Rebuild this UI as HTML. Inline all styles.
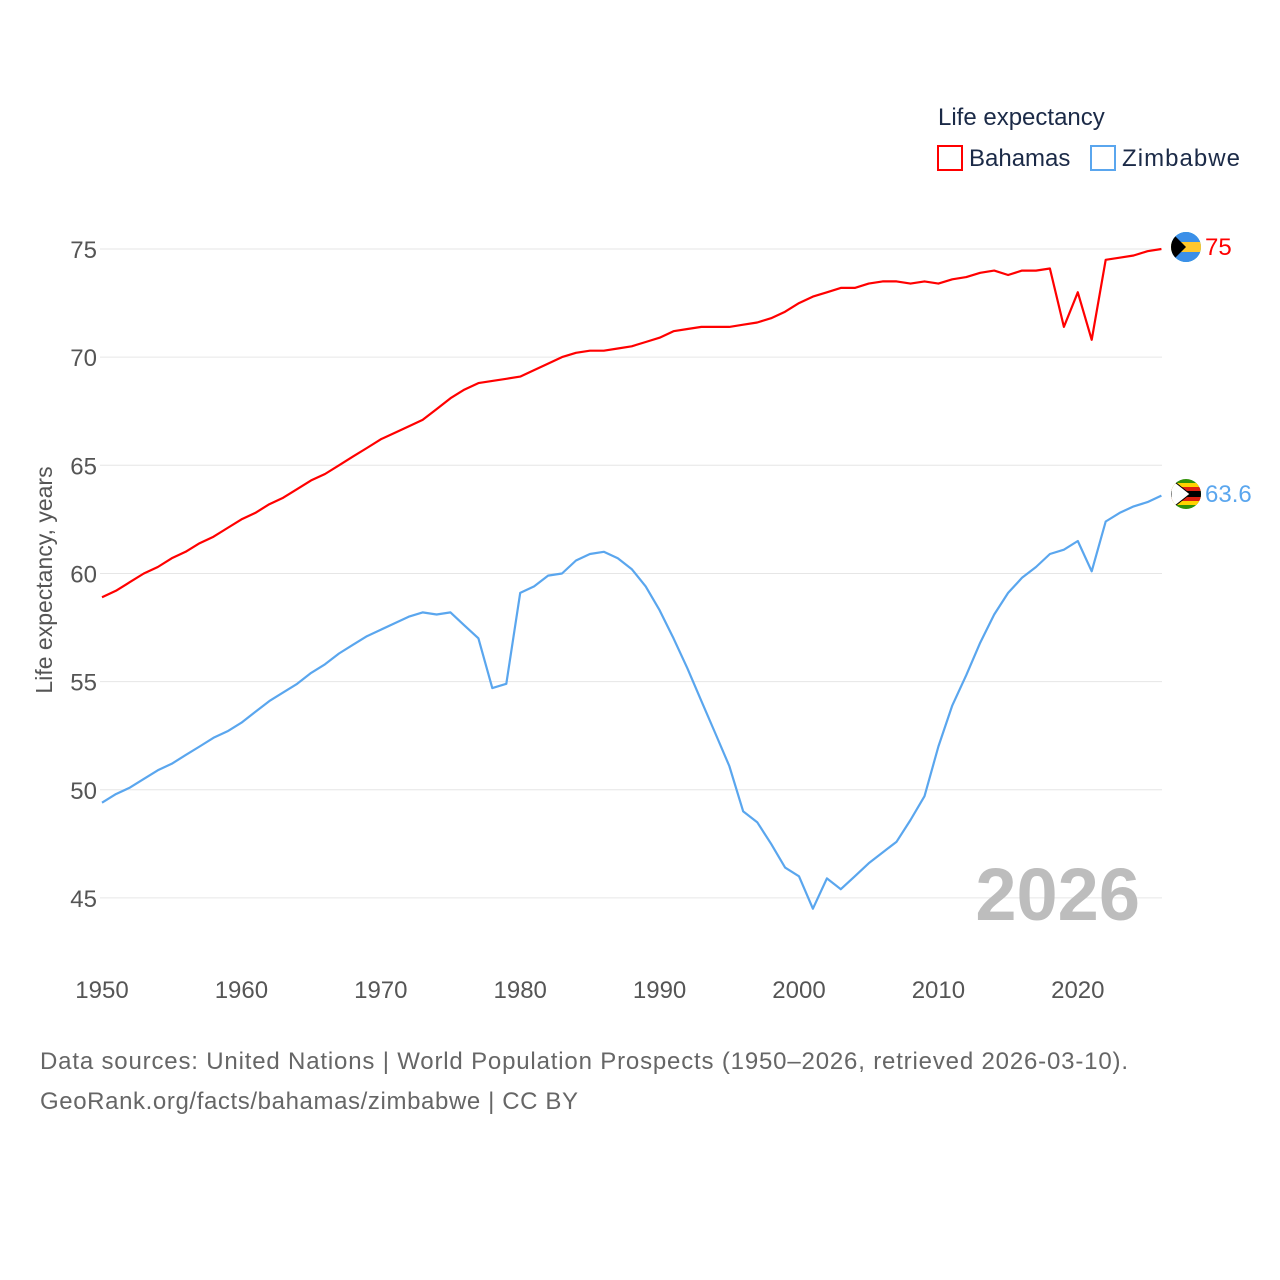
<!DOCTYPE html>
<html><head><meta charset="utf-8"><style>
body{margin:0;background:#fff;}
svg{display:block;font-family:"Liberation Sans",sans-serif;}
</style></head><body>
<svg id="chart" width="1280" height="1280" viewBox="0 0 1280 1280">
<g id="grid"></g>
<g id="yticks"></g>
<g id="xticks"></g>
<text x="52" y="580" transform="rotate(-90 52 580)" text-anchor="middle" font-size="23" fill="#555">Life expectancy, years</text>
<text x="1140" y="920" text-anchor="end" font-size="74" font-weight="bold" fill="#bdbdbd">2026</text>
<g id="series"></g>
<g>
<text x="938" y="125" font-size="24" fill="#1b2a47">Life expectancy</text>
<g><rect x="938" y="146" width="24" height="24" fill="none" stroke="#ff0000" stroke-width="2"/><text x="969" y="166" font-size="24" fill="#1b2a47">Bahamas</text></g>
<g><rect x="1091" y="146" width="24" height="24" fill="none" stroke="#5aa6ee" stroke-width="2"/><text x="1122" y="166" font-size="24" fill="#1b2a47" textLength="118">Zimbabwe</text></g>
</g>
<defs>
<clipPath id="c1"><circle cx="1186" cy="247" r="15"/></clipPath>
<clipPath id="c2"><circle cx="1186" cy="494" r="15"/></clipPath>
</defs>
<g clip-path="url(#c1)">
<rect x="1171" y="232" width="30" height="30" fill="#00abc9"/>
<rect x="1171" y="242" width="30" height="10" fill="#ffc72c"/>
<rect x="1171" y="232" width="30" height="10" fill="#3b8fe8"/>
<rect x="1171" y="252" width="30" height="10" fill="#3b8fe8"/>
<polygon points="1171,232 1186,247 1171,262" fill="#000"/>
</g>
<g clip-path="url(#c2)">
<rect x="1171" y="479" width="30" height="30" fill="#319208"/>
<rect x="1171" y="483" width="30" height="4" fill="#ffd200"/>
<rect x="1171" y="487" width="30" height="4" fill="#de2010"/>
<rect x="1171" y="491" width="30" height="6" fill="#000"/>
<rect x="1171" y="497" width="30" height="4" fill="#de2010"/>
<rect x="1171" y="501" width="30" height="4" fill="#ffd200"/>
<polygon points="1171,479 1190,494 1171,509" fill="#fff" stroke="#000" stroke-width="1"/>
</g>
<text x="1205" y="255" font-size="24" fill="#ff0000">75</text>
<text x="1205" y="502" font-size="24" fill="#5aa6ee">63.6</text>
<text x="40" y="1069" font-size="24" fill="#666" textLength="1088">Data sources: United Nations | World Population Prospects (1950–2026, retrieved 2026-03-10).</text>
<text x="40" y="1109" font-size="24" fill="#666" textLength="538">GeoRank.org/facts/bahamas/zimbabwe | CC BY</text>
</svg>
<script>
const years = [];
for (let y = 1950; y <= 2026; y++) years.push(y);
const bahamas = [58.9,59.2,59.6,60.0,60.3,60.7,61.0,61.4,61.7,62.1,62.5,62.8,63.2,63.5,63.9,64.3,64.6,65.0,65.4,65.8,66.2,66.5,66.8,67.1,67.6,68.1,68.5,68.8,68.9,69.0,69.1,69.4,69.7,70.0,70.2,70.3,70.3,70.4,70.5,70.7,70.9,71.2,71.3,71.4,71.4,71.4,71.5,71.6,71.8,72.1,72.5,72.8,73.0,73.2,73.2,73.4,73.5,73.5,73.4,73.5,73.4,73.6,73.7,73.9,74.0,73.8,74.0,74.0,74.1,71.4,73.0,70.8,74.5,74.6,74.7,74.9,75.0];
const zimbabwe = [49.4,49.8,50.1,50.5,50.9,51.2,51.6,52.0,52.4,52.7,53.1,53.6,54.1,54.5,54.9,55.4,55.8,56.3,56.7,57.1,57.4,57.7,58.0,58.2,58.1,58.2,57.6,57.0,54.7,54.9,59.1,59.4,59.9,60.0,60.6,60.9,61.0,60.7,60.2,59.4,58.3,57.0,55.6,54.1,52.6,51.1,49.0,48.5,47.5,46.4,46.0,44.5,45.9,45.4,46.0,46.6,47.1,47.6,48.6,49.7,52.0,53.9,55.3,56.8,58.1,59.1,59.8,60.3,60.9,61.1,61.5,60.1,62.4,62.8,63.1,63.3,63.6];
const yTicks = [45,50,55,60,65,70,75];
const xTicks = [1950,1960,1970,1980,1990,2000,2010,2020];
const NS = "http://www.w3.org/2000/svg";
const xs = y => 102 + (y - 1950) * 13.94;
const ys = v => 249 + (75 - v) * 21.63;
const grid = document.getElementById('grid'), yt = document.getElementById('yticks'), xt = document.getElementById('xticks'), ser = document.getElementById('series');
yTicks.forEach(v => {
  const l = document.createElementNS(NS, 'line');
  
  
  l.setAttribute('x1', 100); l.setAttribute('x2', 1162);
  l.setAttribute('y1', ys(v)); l.setAttribute('y2', ys(v));
  l.setAttribute('stroke', '#e6e6e6'); l.setAttribute('stroke-width', 1);
  grid.appendChild(l);
  const t = document.createElementNS(NS, 'text');
  
  
  t.setAttribute('x', 97); t.setAttribute('y', ys(v) + 9);
  t.setAttribute('text-anchor', 'end'); t.setAttribute('font-size', 24); t.setAttribute('fill', '#555');
  t.textContent = v; yt.appendChild(t);
});
xTicks.forEach(y => {
  const t = document.createElementNS(NS, 'text');
  
  
  t.setAttribute('x', xs(y)); t.setAttribute('y', 998);
  t.setAttribute('text-anchor', 'middle'); t.setAttribute('font-size', 24); t.setAttribute('fill', '#555');
  t.textContent = y; xt.appendChild(t);
});
function line(vals, color, name) {
  const p = document.createElementNS(NS, 'polyline');
  
  
  p.setAttribute('points', vals.map((v, i) => xs(years[i]).toFixed(1) + ',' + ys(v).toFixed(1)).join(' '));
  p.setAttribute('fill', 'none'); p.setAttribute('stroke', color); p.setAttribute('stroke-width', 2.2);
  p.setAttribute('stroke-linejoin', 'round');
  ser.appendChild(p);
}
line(zimbabwe, '#5aa6ee', 'zimbabwe-line');
line(bahamas, '#ff0000', 'bahamas-line');
</script>
</body></html>
